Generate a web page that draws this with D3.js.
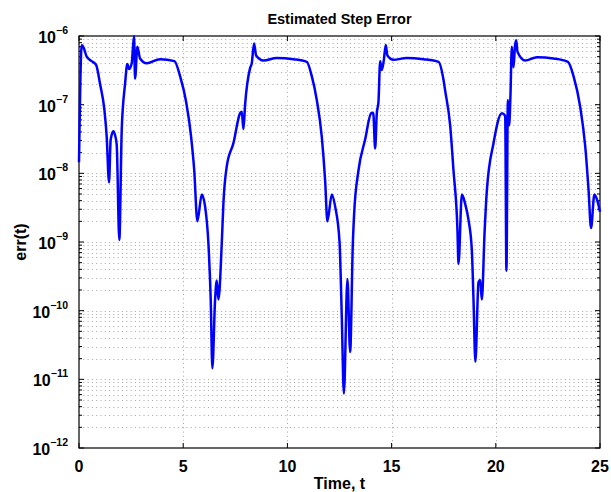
<!DOCTYPE html>
<html><head><meta charset="utf-8">
<script src="https://cdn.jsdelivr.net/npm/d3@7"></script>
<style>body{margin:0;background:#fff;} svg{display:block;} text{font-family:"Liberation Sans",Arial,Helvetica,sans-serif;font-weight:bold;}</style>
</head><body><svg id="c" width="611" height="492"></svg>
<script>
const tVals = [0,0.13,0.22,0.37,0.61,0.82,1.01,1.22,1.33,1.44,1.52,1.65,1.74,1.81,1.935,2.05,2.21,2.32,2.41,2.53,2.64,2.69,2.80,2.93,3.25,3.89,4.58,4.85,5.14,5.38,5.53,5.68,5.89,6.05,6.21,6.32,6.40,6.53,6.61,6.69,6.85,6.93,7.09,7.41,7.73,7.81,7.89,7.97,8.21,8.29,8.40,8.50,8.85,9.49,10.29,10.93,11.17,11.41,11.65,11.81,11.92,12.13,12.29,12.50,12.61,12.71,12.88,13.01,13.14,13.20,13.41,13.73,14.02,14.12,14.21,14.29,14.37,14.45,14.53,14.62,14.72,14.80,15.09,15.73,16.53,17.25,17.49,17.57,17.81,17.97,18.16,18.21,18.37,18.53,18.69,18.85,18.93,19.02,19.17,19.25,19.33,19.46,19.57,19.89,20.29,20.45,20.51,20.58,20.64,20.70,20.77,20.85,20.92,20.98,21.04,21.41,21.97,22.77,23.46,23.73,24.05,24.29,24.45,24.57,24.73,24.86,25.0];
const errVals = [1.45e-8,7.4e-7,6.8e-7,5.0e-7,4.3e-7,3.8e-7,2.0e-7,8.3e-8,3.4e-8,7.4e-9,3.1e-8,4.1e-8,3.5e-8,2.6e-8,1.07e-9,4.3e-8,2.0e-7,3.9e-7,3.3e-7,4.0e-7,1.0e-6,2.4e-7,7.0e-7,4.7e-7,4.0e-7,4.6e-7,4.3e-7,2.6e-7,1.1e-7,3.4e-8,1.1e-8,2.0e-9,4.9e-9,3.3e-9,9.5e-10,1.45e-10,1.45e-11,1.45e-10,2.75e-10,1.45e-10,9.5e-10,3.7e-9,1.26e-8,2.75e-8,7.5e-8,7.9e-8,4.4e-8,1.0e-7,3.4e-7,4.0e-7,7.8e-7,5.2e-7,4.4e-7,4.8e-7,4.6e-7,4.2e-7,2.6e-7,1.17e-7,3.4e-8,7.9e-9,2.0e-9,4.9e-9,3.3e-9,1.02e-9,8.1e-11,6.2e-12,2.9e-10,2.5e-11,9.5e-10,2.5e-9,1.1e-8,3.1e-8,7.5e-8,7.6e-8,2.3e-8,7.5e-8,1.1e-7,4.3e-7,3.2e-7,4.3e-7,7.4e-7,5.2e-7,4.5e-7,4.8e-7,4.6e-7,4.2e-7,2.3e-7,1.6e-7,5.0e-8,1.1e-8,1.5e-9,4.8e-10,4.9e-9,3.6e-9,2.1e-9,7.6e-10,1.45e-10,1.8e-11,2.6e-10,2.8e-10,1.45e-10,1.35e-9,5.6e-9,2.75e-8,7.5e-8,6.9e-8,3.8e-10,1.17e-7,5.0e-8,1.26e-7,7.0e-7,3.5e-7,7.1e-7,8.7e-7,5.9e-7,4.4e-7,4.9e-7,4.7e-7,4.2e-7,2.6e-7,9.3e-8,2.5e-8,5.8e-9,1.6e-9,4.9e-9,4.1e-9,2.75e-9];
const xTicks = [0,5,10,15,20,25];
const yExps = [-12,-11,-10,-9,-8,-7,-6];
const titleText = "Estimated Step Error";
const xLabel = "Time, t";
const yLabel = "err(t)";

const L=79,R=600,T=36,B=448;
const svg=d3.select("#c");
const x=d3.scaleLinear().domain([0,25]).range([L,R]);
const y=d3.scaleLog().domain([1e-12,1e-6]).range([B,T]);

const minors=[];
for(let e=-12;e<-6;e++) for(let k=2;k<=9;k++) minors.push(k*Math.pow(10,e));
const majors=yExps.map(e=>Math.pow(10,e));

const grid=svg.append("g").attr("stroke","#444").attr("stroke-width",0.8).attr("stroke-dasharray","1,3.3").attr("opacity",0.6);
grid.selectAll(".hy").data(minors.concat(majors.slice(1,-1))).join("line")
 .attr("x1",L).attr("x2",R).attr("y1",d=>Math.round(y(d))+0.5).attr("y2",d=>Math.round(y(d))+0.5);
grid.selectAll(".vx").data(xTicks.slice(1,-1)).join("line")
 .attr("y1",T).attr("y2",B).attr("x1",d=>Math.round(x(d))+0.5).attr("x2",d=>Math.round(x(d))+0.5);

svg.append("rect").attr("x",L).attr("y",T).attr("width",R-L).attr("height",B-T).attr("fill","none").attr("stroke","#000").attr("stroke-width",1.2);

const tk=svg.append("g").attr("stroke","#000").attr("stroke-width",1);
xTicks.forEach(v=>{
  tk.append("line").attr("x1",x(v)).attr("x2",x(v)).attr("y1",B).attr("y2",B-5);
  tk.append("line").attr("x1",x(v)).attr("x2",x(v)).attr("y1",T).attr("y2",T+5);
});
majors.forEach(v=>{
  tk.append("line").attr("x1",L).attr("x2",L+5).attr("y1",y(v)).attr("y2",y(v));
  tk.append("line").attr("x1",R).attr("x2",R-5).attr("y1",y(v)).attr("y2",y(v));
});
minors.forEach(v=>{
  tk.append("line").attr("x1",L).attr("x2",L+3).attr("y1",y(v)).attr("y2",y(v));
  tk.append("line").attr("x1",R).attr("x2",R-3).attr("y1",y(v)).attr("y2",y(v));
});

const pts=tVals.map((t,i)=>[t,errVals[i]]);
svg.append("path").datum(pts).attr("fill","none").attr("stroke","#0000ff").attr("stroke-width",2.5)
 .attr("stroke-linejoin","round")
 .attr("d",d3.line().curve(d3.curveMonotoneX).x(d=>x(d[0])).y(d=>y(d[1])));

svg.append("g").selectAll("text").data(xTicks).join("text")
 .attr("x",d=>x(d)).attr("y",472).attr("text-anchor","middle").attr("font-size",16).text(d=>d);

const yl=svg.append("g").selectAll("text").data(yExps).join("text")
 .attr("x",68).attr("y",d=>y(Math.pow(10,d))+7).attr("text-anchor","end").attr("font-size",16);
yl.append("tspan").text("10");
yl.append("tspan").attr("dy",-9).attr("font-size",10.5).text(d=>"\u2212"+(-d));

svg.append("text").attr("x",(L+R)/2).attr("y",24).attr("text-anchor","middle").attr("font-size",14.5).text(titleText);
svg.append("text").attr("x",(L+R)/2).attr("y",489).attr("text-anchor","middle").attr("font-size",16).text(xLabel);
svg.append("text").attr("transform",`translate(26,${(T+B)/2}) rotate(-90)`).attr("text-anchor","middle").attr("font-size",16).text(yLabel);
</script></body></html>
